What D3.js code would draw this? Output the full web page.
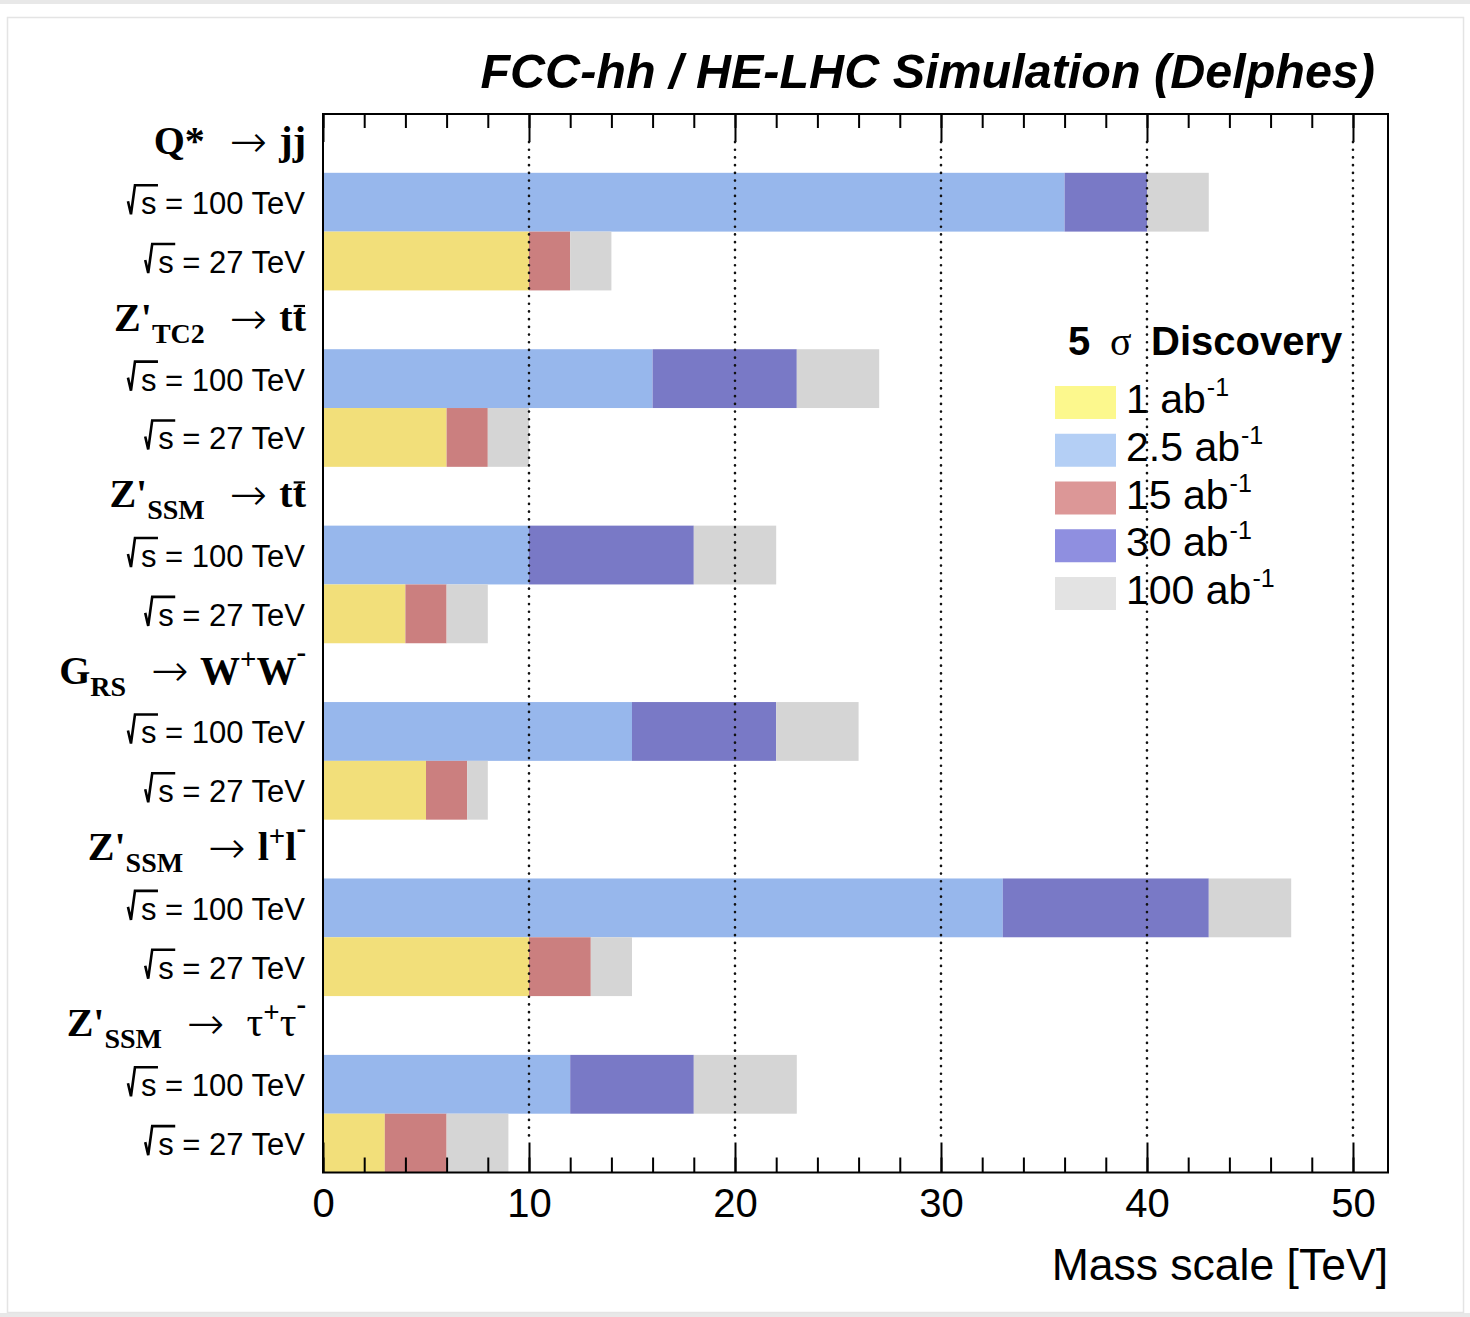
<!DOCTYPE html>
<html>
<head>
<meta charset="utf-8">
<script src="https://cdn.jsdelivr.net/npm/d3@7"></script>
<style>
  html, body { margin: 0; padding: 0; background: #fff; }
  svg { display: block; }
  text { white-space: pre; }
</style>
</head>
<body>
<svg id="chart" width="1470" height="1317"></svg>
<script>
// Signal processes, top to bottom (ROOT-style markup for the labels)
const processes = [
  "Q*  #rightarrow jj",
  "Z'_{TC2}  #rightarrow t#bar{t}",
  "Z'_{SSM}  #rightarrow t#bar{t}",
  "G_{RS}  #rightarrow W^{+}W^{-}",
  "Z'_{SSM}  #rightarrow l^{+}l^{-}",
  "Z'_{SSM}  #rightarrow  #tau^{+}#tau^{-}"
];
const energies = ["100 TeV", "27 TeV"];
// Integrated luminosities shown in the legend (ab^-1)
const luminosities = ["1", "2.5", "15", "30", "100"];

// 5 sigma discovery reach [TeV], one value per process
// FCC-hh, sqrt(s) = 100 TeV
const reach100_2p5 = [36, 16, 10, 15, 33, 12];
const reach100_30  = [40, 23, 18, 22, 43, 18];
const reach100_100 = [43, 27, 22, 26, 47, 23];
// HE-LHC, sqrt(s) = 27 TeV
const reach27_1   = [10, 6, 4, 5, 10, 3];
const reach27_15  = [12, 8, 6, 7, 13, 6];
const reach27_100 = [14, 10, 8, 8, 15, 9];

const xMajorTicks = [0, 10, 20, 30, 40, 50];
const xMinorTicks = d3.range(0, 52, 2);
const xMax = 51.7;

const barColor = { "1": "#f2df7a", "2.5": "#97b7ec", "15": "#cb7f7f", "30": "#7979c6", "100": "#d5d5d5" };
const legendColor = { "1": "#fcf88d", "2.5": "#b4cff5", "15": "#dc9797", "30": "#8f8fe0", "100": "#e3e3e3" };

const SANS = "'Liberation Sans', Arial, Helvetica, sans-serif";
const SERIF = "'Liberation Serif', 'Times New Roman', serif";
const ARROW_FONT = "'DejaVu Sans', sans-serif";

const svg = d3.select("#chart");
const W = 1470, H = 1317;
const plot = { left: 323, right: 1388, top: 114, bottom: 1172.5 };

// page frame
svg.append("rect").attr("width", W).attr("height", H).attr("fill", "#fff");
svg.append("rect").attr("x", 0).attr("y", 0).attr("width", W).attr("height", 4).attr("fill", "#e8e8e8");
svg.append("rect").attr("x", 0).attr("y", 1313).attr("width", W).attr("height", 4).attr("fill", "#e8e8e8");
svg.append("rect").attr("x", 7.5).attr("y", 17.5).attr("width", 1456).attr("height", 1295)
  .attr("fill", "none").attr("stroke", "#e4e4e4").attr("stroke-width", 1.5);

// scales
const x = d3.scaleLinear().domain([0, xMax]).range([plot.left, plot.right]);
const slots = [];
processes.forEach((p, i) => { slots.push("h" + i); energies.forEach(e => slots.push(e + "|" + i)); });
const y = d3.scaleBand().domain(slots).range([plot.top, plot.bottom]).padding(0);

// bar segments: each luminosity extends the previous reach
const segments = [];
processes.forEach((p, i) => {
  const fcc = [["2.5", reach100_2p5[i]], ["30", reach100_30[i]], ["100", reach100_100[i]]];
  const he = [["1", reach27_1[i]], ["15", reach27_15[i]], ["100", reach27_100[i]]];
  [[energies[0], fcc], [energies[1], he]].forEach(([e, list]) => {
    let prev = 0;
    list.forEach(([lumi, v]) => {
      segments.push({ slot: e + "|" + i, lumi, x0: prev, x1: v });
      prev = v;
    });
  });
});

svg.append("g").selectAll("rect").data(segments).join("rect")
  .attr("x", d => x(d.x0))
  .attr("width", d => x(d.x1) - x(d.x0))
  .attr("y", d => y(d.slot))
  .attr("height", y.bandwidth())
  .attr("fill", d => barColor[d.lumi]);

// ticks: minor every 2 TeV, major every 10 TeV, on top and bottom edges
const bottomMinor = d3.axisBottom(x).tickValues(xMinorTicks).tickSizeInner(-15).tickSizeOuter(0).tickFormat("");
const bottomMajor = d3.axisBottom(x).tickValues(xMajorTicks).tickSizeInner(-30).tickSizeOuter(0)
  .tickPadding(16).tickFormat(d3.format("d"));
const topMinor = d3.axisTop(x).tickValues(xMinorTicks).tickSizeInner(-14).tickSizeOuter(0).tickFormat("");
const topMajor = d3.axisTop(x).tickValues(xMajorTicks).tickSizeInner(-28).tickSizeOuter(0).tickFormat("");

function styleAxis(g) {
  g.select(".domain").remove();
  g.selectAll(".tick line").attr("stroke", "#000").attr("stroke-width", 2);
  g.selectAll(".tick text").attr("fill", "#000").attr("font-family", SANS).attr("font-size", 40);
}
svg.append("g").attr("transform", `translate(0,${plot.bottom})`).call(bottomMinor).call(styleAxis);
svg.append("g").attr("transform", `translate(0,${plot.bottom})`).call(bottomMajor).call(styleAxis);
svg.append("g").attr("transform", `translate(0,${plot.top})`).call(topMinor).call(styleAxis);
svg.append("g").attr("transform", `translate(0,${plot.top})`).call(topMajor).call(styleAxis);

// frame
svg.append("rect").attr("x", plot.left).attr("y", plot.top)
  .attr("width", plot.right - plot.left).attr("height", plot.bottom - plot.top)
  .attr("fill", "none").attr("stroke", "#000").attr("stroke-width", 2);

// axis title
svg.append("text").attr("x", plot.right).attr("y", 1280).attr("text-anchor", "end")
  .attr("font-family", SANS).attr("font-size", 44.5).text("Mass scale [TeV]");

// title
svg.append("text").attr("x", 1375).attr("y", 88).attr("text-anchor", "end")
  .attr("font-family", SANS).attr("font-size", 48.5).attr("font-weight", "bold").attr("font-style", "italic")
  .text("FCC-hh / HE-LHC Simulation (Delphes)");

// small TeX-like label renderer: _{sub}, ^{sup}, #bar{x}, #rightarrow, #tau
function drawLatex(parent, markup, xRight, baseline, size) {
  const tokens = markup.match(/_\{[^}]*\}|\^\{[^}]*\}|#bar\{[^}]*\}|#rightarrow|#tau|[^_^#]+/g);
  const g = parent.append("g");
  let cx = 0;
  tokens.forEach(tok => {
    let txt = tok, kind = "n";
    if (tok.startsWith("_{")) { kind = "sub"; txt = tok.slice(2, -1); }
    else if (tok.startsWith("^{")) { kind = "sup"; txt = tok.slice(2, -1); }
    else if (tok.startsWith("#bar{")) { kind = "bar"; txt = tok.slice(5, -1); }
    else if (tok === "#rightarrow") { kind = "arrow"; txt = "\u2192"; }
    else if (tok === "#tau") { kind = "sym"; txt = "\u03c4"; }
    let fs = size, dy = 0, weight = "bold", family = SERIF, padL = 0, padR = 0;
    if (kind === "sub") { fs = size * 0.7; dy = size * 0.3; }
    if (kind === "sup") { fs = size * 0.72; dy = txt === "-" ? -size * 0.55 : -size * 0.36; }
    if (kind === "sym") { weight = "normal"; fs = size * 1.04; }
    if (kind === "arrow") { weight = 200; family = ARROW_FONT; fs = size * 1.12; dy = size * 0.07; padL = 5; padR = 2; }
    cx += padL;
    const t = g.append("text").attr("x", cx).attr("y", dy)
      .attr("font-family", family).attr("font-size", fs).attr("font-weight", weight).text(txt);
    const w = t.node().getComputedTextLength();
    if (kind === "bar") {
      g.append("line").attr("x1", cx + 1).attr("x2", cx + w - 1)
        .attr("y1", -size * 0.62).attr("y2", -size * 0.62)
        .attr("stroke", "#000").attr("stroke-width", 2.2);
    }
    cx += w + padR;
  });
  g.attr("transform", `translate(${xRight - cx},${baseline})`);
}

const labels = svg.append("g");
processes.forEach((p, i) => {
  drawLatex(labels, p, 306, y("h" + i) + y.bandwidth() / 2 + 11, 40);
  energies.forEach(e => {
    const base = y(e + "|" + i) + y.bandwidth() / 2 + 12;
    const t = labels.append("text").attr("x", 305).attr("y", base).attr("text-anchor", "end")
      .attr("font-family", SANS).attr("font-size", 31).text("s = " + e);
    const xs = 305 - t.node().getComputedTextLength();
    labels.append("path")
      .attr("d", `M${xs - 13},${base - 13} L${xs - 10},${base} L${xs - 6},${base - 29} L${xs + 17},${base - 29}`)
      .attr("fill", "none").attr("stroke", "#000").attr("stroke-width", 2.6).attr("stroke-linejoin", "miter");
  });
});

// legend
const legend = svg.append("g");
const titleParts = [["5", SANS, "bold", 1068], ["\u03c3", SERIF, "normal", 1110], ["Discovery", SANS, "bold", 1151]];
titleParts.forEach(([s, fam, wt, px]) => {
  legend.append("text").attr("x", px).attr("y", 355).attr("font-size", 40)
    .attr("font-family", fam).attr("font-weight", wt).text(s);
});

const legY = d3.scalePoint().domain(luminosities).range([386, 577]);
luminosities.forEach(l => {
  const top = legY(l);
  legend.append("rect").attr("x", 1055).attr("y", top).attr("width", 61).attr("height", 33)
    .attr("fill", legendColor[l]);
  const t = legend.append("text").attr("x", 1126).attr("y", top + 27)
    .attr("font-family", SANS).attr("font-size", 41).attr("fill", "#000");
  t.append("tspan").text(l + " ab");
  t.append("tspan").attr("font-size", 25).attr("dy", -17).attr("dx", 1).text("-1");
});

// dotted grid at the major ticks, drawn over everything inside the frame
svg.append("g").selectAll("line").data(xMajorTicks.filter(v => v > 0)).join("line")
  .attr("x1", d => x(d)).attr("x2", d => x(d))
  .attr("y1", plot.top + 28).attr("y2", plot.bottom - 30)
  .attr("stroke", "#111").attr("stroke-width", 2.6)
  .attr("stroke-dasharray", "0.1 7.6").attr("stroke-linecap", "round");
</script>
</body>
</html>
